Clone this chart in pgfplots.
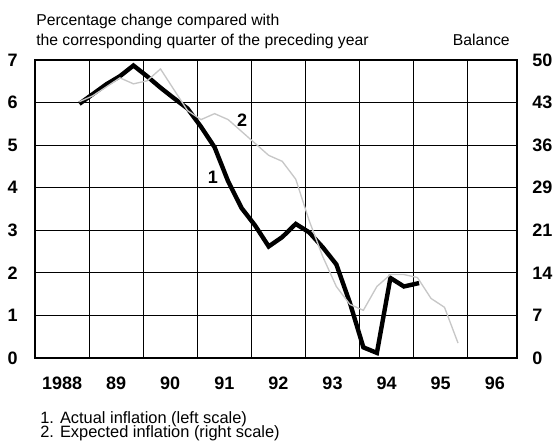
\documentclass[border=0pt]{standalone}
\usepackage{fontspec}
\setmainfont{Liberation Sans}
\usepackage{pgfplots}
\pgfplotsset{compat=1.18}
\begin{document}
\begin{tikzpicture}
\begin{axis}[
  name=main,
  at={(0pt,0pt)}, anchor=south west,
  scale only axis, width=361.5pt, height=223.5pt,
  xmin=1988, xmax=1996.91, ymin=0, ymax=7,
  axis line style={line width=0.8pt},
  xtick={1988.5,1989.5,...,1996.5},
  xticklabels={1988,89,90,91,92,93,94,95,96},
  minor xtick={1989,1990,...,1996},
  ytick={0,1,...,7},
  yticklabels={0,1,2,3,4,5,6,7},
  xminorgrids=true, ymajorgrids=true,
  major grid style={black, line width=0.7pt},
  minor grid style={black, line width=0.7pt},
  major tick length=0pt, minor tick length=0pt,
  tick label style={font=\fontsize{13.5}{16}\selectfont\bfseries, inner sep=0pt},
  xticklabel style={anchor=north, yshift=-14pt},
  yticklabel style={anchor=east, xshift=-12.75pt},
  clip=false,
]
\addplot[black, line width=3.3pt, line join=miter] coordinates {
(1988.82,5.97) (1989.07,6.20) (1989.32,6.43) (1989.57,6.62) (1989.82,6.87)
(1990.07,6.62) (1990.32,6.35) (1990.57,6.10) (1990.82,5.86) (1991.07,5.43)
(1991.32,4.95) (1991.57,4.15) (1991.82,3.52) (1992.07,3.11) (1992.32,2.62)
(1992.57,2.84) (1992.82,3.15) (1993.07,2.95) (1993.32,2.60) (1993.57,2.20)
(1993.82,1.30) (1994.07,0.25) (1994.32,0.12) (1994.57,1.88) (1994.82,1.68)
(1995.10,1.76)
};
\node[font=\fontsize{13.5}{16}\selectfont\bfseries] at (axis cs:1991.29,4.25) {1};
\node[font=\fontsize{13.5}{16}\selectfont\bfseries] at (axis cs:1991.83,5.59) {2};
\end{axis}
\begin{axis}[
  at={(0pt,0pt)}, anchor=south west,
  scale only axis, width=361.5pt, height=223.5pt,
  xmin=1988, xmax=1996.91, ymin=0, ymax=50,
  hide x axis,
  axis y line*=right,
  axis line style={draw=none},
  ytick={0,7.142857,14.285714,21.428571,28.571429,35.714286,42.857143,50},
  yticklabels={0,7,14,21,29,36,43,50},
  major tick length=0pt,
  tick label style={font=\fontsize{13.5}{16}\selectfont\bfseries, inner sep=0pt},
  yticklabel style={anchor=west, xshift=11.25pt},
]
\addplot[black!22, line width=1pt] coordinates {
(1988.82,43) (1989.07,44) (1989.32,45.5) (1989.57,47) (1989.82,46)
(1990.07,46.5) (1990.32,48.5) (1990.57,45) (1990.82,41.5) (1991.07,40)
(1991.32,41) (1991.57,40) (1991.82,38) (1992.07,36) (1992.32,34)
(1992.57,33) (1992.82,30) (1993.07,23) (1993.32,17) (1993.57,12)
(1993.82,9) (1994.07,8) (1994.32,12) (1994.57,14) (1994.82,14)
(1995.07,13.5) (1995.32,10) (1995.57,8.5) (1995.82,2.5)
};
\end{axis}
\node[anchor=base west, inner sep=0pt, font=\fontsize{11.8}{14}\selectfont] at ([xshift=0.75pt,yshift=25.7pt]main.north west) {Percentage change compared with};
\node[anchor=base west, inner sep=0pt, font=\fontsize{11.8}{14}\selectfont] at ([xshift=0.75pt,yshift=11.25pt]main.north west) {the corresponding quarter of the preceding year};
\node[anchor=base east, inner sep=0pt, font=\fontsize{11.8}{14}\selectfont] at ([xshift=-5.25pt,yshift=11.25pt]main.north east) {Balance};
\node[anchor=base west, inner sep=0pt, font=\fontsize{12.3}{14}\selectfont] at ([xshift=3.75pt,yshift=-49pt]main.south west) {1. Actual inflation (left scale)};
\node[anchor=base west, inner sep=0pt, font=\fontsize{12.3}{14}\selectfont] at ([xshift=3.75pt,yshift=-60pt]main.south west) {2. Expected inflation (right scale)};
\pgfresetboundingbox
\path[use as bounding box] ([xshift=-26.25pt,yshift=-65.25pt]main.south west) rectangle ++(414.75pt,333.75pt);
\end{tikzpicture}
\end{document}
